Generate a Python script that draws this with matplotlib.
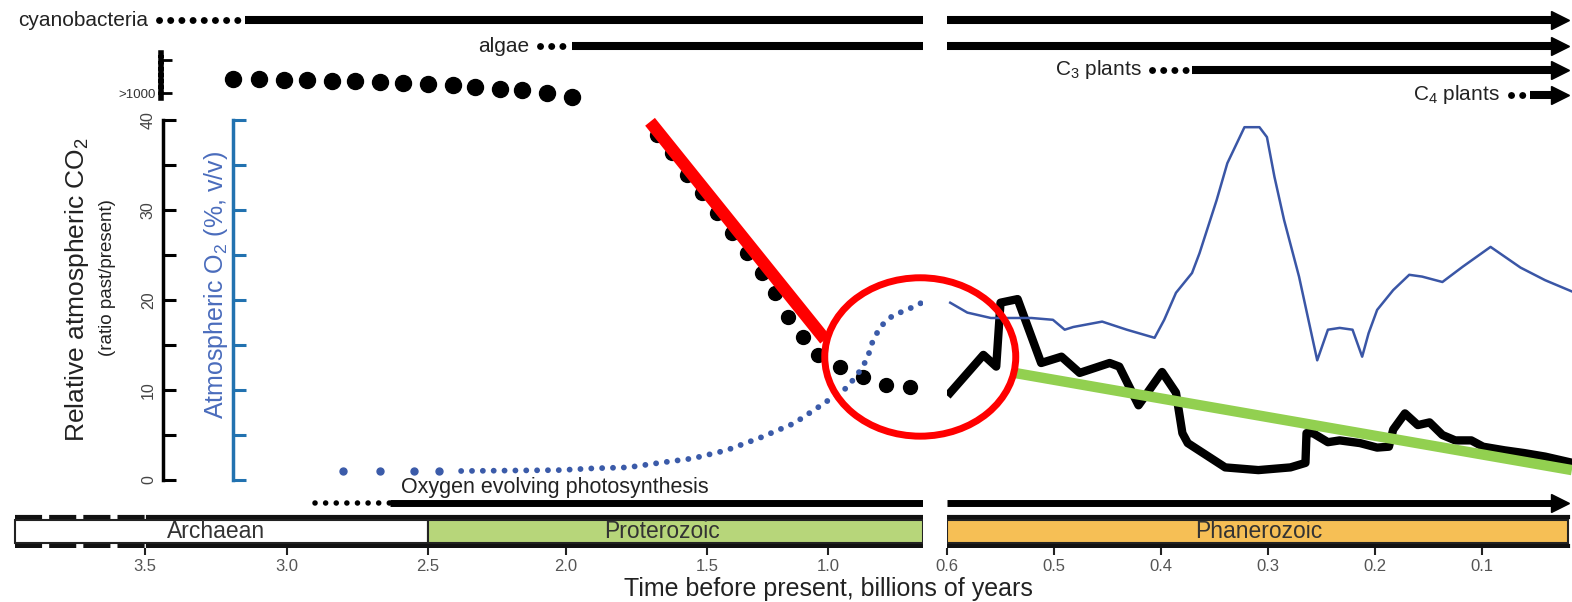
import numpy as np
import matplotlib
matplotlib.use("Agg")
import matplotlib.pyplot as plt
from matplotlib.patches import Ellipse

plt.rcParams['font.family'] = ['Liberation Sans', 'DejaVu Sans']
plt.rcParams['mathtext.default'] = 'regular'

# ---------------- data (time in billions of years before present) ----------------
# CO2 ">1000" dots, drawn in the broken part of the axis above 40
co2_high_age = [3.19, 3.10, 3.01, 2.93, 2.84, 2.76, 2.67, 2.59, 2.50, 2.41, 2.33, 2.24, 2.16, 2.07, 1.98]
co2_high_pos = [44.6, 44.5, 44.4, 44.4, 44.3, 44.3, 44.2, 44.1, 44.0, 43.9, 43.7, 43.4, 43.3, 43.0, 42.6]

# Proterozoic CO2 dots (ratio past/present)
co2_pre_age = [1.677, 1.624, 1.571, 1.518, 1.459, 1.397, 1.335, 1.273, 1.219, 1.165,
               1.103, 1.041, 0.950, 0.855, 0.760, 0.661]
co2_pre = [38.3, 36.3, 33.9, 31.9, 29.7, 27.4, 25.2, 23.0, 20.8, 18.1,
           15.9, 13.9, 12.6, 11.4, 10.6, 10.3]

# Precambrian O2 (%)
o2_sparse_age = [2.80, 2.67, 2.55, 2.46]
o2_sparse = [1.0, 1.0, 1.0, 1.0]
o2_pre_age = [2.38, 2.02, 1.90, 1.78, 1.67, 1.55, 1.42, 1.28, 1.14, 1.045, 0.98, 0.92,
              0.86, 0.835, 0.818, 0.785, 0.731, 0.674, 0.612]
o2_pre = [1.0, 1.1, 1.3, 1.4, 1.9, 2.4, 3.3, 4.7, 6.3, 8.0, 9.2, 10.3,
          12.4, 13.7, 15.2, 17.0, 18.3, 18.9, 19.7]

# Phanerozoic CO2 (ratio)
phan_co2_age = [0.597, 0.566, 0.554, 0.550, 0.534, 0.512, 0.493, 0.476, 0.448, 0.439,
                0.421, 0.399, 0.386, 0.380, 0.375, 0.340, 0.309, 0.279, 0.265, 0.264,
                0.258, 0.244, 0.233, 0.214, 0.198, 0.187, 0.183, 0.172, 0.160, 0.149,
                0.137, 0.125, 0.110, 0.099, 0.079, 0.061, 0.041, 0.019]
phan_co2 = [9.7, 13.9, 12.6, 19.7, 20.1, 13.0, 13.7, 11.9, 13.0, 12.6,
            8.3, 12.0, 9.7, 5.2, 4.1, 1.4, 1.1, 1.4, 1.9, 5.2,
            5.2, 4.2, 4.4, 4.1, 3.6, 3.7, 5.6, 7.4, 6.1, 6.4,
            5.0, 4.4, 4.4, 3.7, 3.3, 3.0, 2.6, 2.0]

# Phanerozoic O2 (%)
phan_o2_age = [0.597, 0.581, 0.559, 0.521, 0.501, 0.490, 0.482, 0.455, 0.432, 0.406,
               0.397, 0.386, 0.371, 0.364, 0.348, 0.338, 0.322, 0.308, 0.301, 0.294,
               0.285, 0.271, 0.254, 0.244, 0.233, 0.221, 0.212, 0.206, 0.198, 0.183,
               0.168, 0.156, 0.137, 0.118, 0.092, 0.064, 0.041, 0.015]
phan_o2 = [19.7, 18.6, 18.0, 18.0, 17.8, 16.7, 17.0, 17.6, 16.7, 15.8,
           17.8, 20.8, 23.0, 25.2, 31.1, 35.2, 39.2, 39.2, 38.1, 33.7,
           28.9, 22.6, 13.3, 16.7, 16.9, 16.7, 13.7, 16.3, 18.9, 21.1,
           22.8, 22.6, 22.0, 23.7, 25.9, 23.6, 22.2, 20.9]

# lineages: label, level, dotted from, dotted to, solid from
lineages = [
    ("cyanobacteria", 51.1, 3.451, 3.162, 3.148),
    ("algae", 48.2, 2.094, 2.000, 1.979),
    ("C$_3$ plants", 45.6, 0.408, 0.374, 0.371),
    ("C$_4$ plants", 42.8, 0.073, 0.057, 0.055),
]
photo_level, photo_dot = -2.56, (2.90, 2.635)

eons = ["Archaean", "Proterozoic", "Phanerozoic"]
eon_bounds = [(3.958, 2.5), (2.5, 0.607), (0.6, 0.020)]
eon_colors = ["white", "#b7d67a", "#f6bf55"]
eon_label_age = [3.25, 1.66, 0.309]

left_ticks = [3.5, 3.0, 2.5, 2.0, 1.5, 1.0]
right_ticks = [0.6, 0.5, 0.4, 0.3, 0.2, 0.1]

# ---------------- layout ----------------
W, H = 1572, 602
fig = plt.figure(figsize=(W / 100, H / 100), dpi=100)

# uneven time axis of the left (Precambrian) panel, as in the original
scale_age = np.array([4.01, 3.5, 3.0, 2.5, 2.0, 1.5, 1.0, 0.607])
scale_px = np.array([0, 145, 287, 428, 566, 707, 828, 923])


def fwd(v):
    return -np.interp(-np.asarray(v, float), -scale_age, scale_px)


def inv(t):
    return -np.interp(-np.asarray(t, float), scale_px, -scale_age)


LEFT_END = 0.607
ARROW_END = 0.027
ylim = (-7.556, 53.333)

ax1 = fig.add_axes([0, 1 - 548 / H, 923 / W, 548 / H])
ax1.set_xscale('function', functions=(fwd, inv))
ax1.set_xlim(4.01, LEFT_END)
ax1.set_ylim(*ylim)

ax2 = fig.add_axes([947 / W, 1 - 548 / H, 625 / W, 548 / H])
ax2.set_xlim(0.6, 0.6 - 625 / 1070)
ax2.set_ylim(*ylim)

for ax in (ax1, ax2):
    ax.patch.set_visible(False)
    for s in ['top', 'right', 'bottom', 'left']:
        ax.spines[s].set_visible(False)
    ax.tick_params(axis='x', direction='out', length=5, width=1.5, color='#222',
                   labelsize=12, labelcolor='#555', pad=3)

ax1.set_xticks(left_ticks)
ax1.set_xticklabels([f"{t:.1f}" for t in left_ticks])
ax2.set_xticks(right_ticks)
ax2.set_xticklabels([f"{t:.1f}" for t in right_ticks])
ax2.set_yticks([])

# CO2 axis
ax1.spines['left'].set_visible(True)
ax1.spines['left'].set_position(('data', 3.437))
ax1.spines['left'].set_bounds(0, 40)
ax1.spines['left'].set_linewidth(2.5)
ax1.set_yticks([0, 10, 20, 30, 40])
ax1.set_yticks([5, 15, 25, 35], minor=True)
ax1.tick_params(axis='y', which='both', direction='in', length=9, width=2.2,
                labelsize=11.5, labelcolor='#444', labelrotation=90, pad=5)
for lab in ax1.get_yticklabels():
    lab.set_va('center')

# O2 axis
ax_o2 = ax1.twinx()
ax_o2.set_ylim(*ylim)
for s in ['top', 'right', 'bottom']:
    ax_o2.spines[s].set_visible(False)
o2_axis_color = '#2272b0'
ax_o2.spines['left'].set_visible(True)
ax_o2.spines['left'].set_position(('data', 3.19))
ax_o2.spines['left'].set_bounds(0, 40)
ax_o2.spines['left'].set_linewidth(2.5)
ax_o2.spines['left'].set_color(o2_axis_color)
ax_o2.yaxis.set_ticks_position('left')
ax_o2.set_yticks(np.arange(0, 41, 5))
ax_o2.tick_params(axis='y', direction='in', length=9, width=2.2, color=o2_axis_color,
                  labelleft=False, labelright=False)

# broken ">1000" part of the CO2 axis
ax_brk = fig.add_axes([161 / W, 1 - 98 / H, 12 / W, 45 / H])
ax_brk.patch.set_visible(False)
for s in ['top', 'right', 'bottom']:
    ax_brk.spines[s].set_visible(False)
ax_brk.spines['left'].set_linestyle((0, (0.6, 0.5)))
ax_brk.spines['left'].set_linewidth(4)
ax_brk.set_ylim(0, 45)
ax_brk.set_xticks([])
ax_brk.set_yticks([5, 38])
ax_brk.set_yticklabels(['>1000', ''])
ax_brk.tick_params(axis='y', direction='in', length=8, width=2, labelsize=9.5,
                   labelcolor='#333', pad=4)

# ---------------- data marks ----------------
blue_dot = '#3b5ba9'
ax1.plot(co2_high_age, co2_high_pos, 'o', color='k', ms=11.5, clip_on=False)
ax1.plot(co2_pre_age, co2_pre, 'o', color='k', ms=10)
ax1.plot(o2_sparse_age, o2_sparse, 'o', color=blue_dot, ms=5)
ax1.plot(o2_pre_age, o2_pre, color=blue_dot, lw=4.2, linestyle=(0, (0.01, 1.85)),
         dash_capstyle='round')

ax2.plot(phan_co2_age, phan_co2, color='k', lw=6)
ax2.plot(phan_o2_age, phan_o2, color='#3a56a6', lw=1.8, clip_on=False)


# ---------------- lineage arrows ----------------
def draw_row(y, dot_from, dot_to, solid_from, dot_lw=5, line_lw=5.8, gap=1.6):
    ax_d = ax1 if dot_to > 0.6 else ax2
    ax_d.plot([dot_from, dot_to], [y, y], color='k', lw=dot_lw,
              linestyle=(0, (0.01, gap)), dash_capstyle='round', clip_on=False)
    if solid_from > 0.6:
        ax1.plot([solid_from, LEFT_END], [y, y], color='k', lw=line_lw, solid_capstyle='butt')
        ax2.plot([0.6, ARROW_END], [y, y], color='k', lw=line_lw, solid_capstyle='butt')
    else:
        ax2.plot([solid_from, ARROW_END], [y, y], color='k', lw=line_lw, solid_capstyle='butt')
    ax2.plot(ARROW_END, y, marker='>', ms=13, color='k', clip_on=False)


for name, y, d0, d1, s0 in lineages:
    draw_row(y, d0, d1, s0)
    ax_t = ax1 if d0 > 0.6 else ax2
    ax_t.annotate(name, xy=(d0, y), xytext=(-8, 0), textcoords='offset points',
                  ha='right', va='center', fontsize=15, color='#222')

draw_row(photo_level, photo_dot[0], photo_dot[1], photo_dot[1], dot_lw=4, line_lw=5, gap=1.9)
ax1.text(2.04, -0.85, "Oxygen evolving photosynthesis", ha='center', va='center',
         fontsize=15.5, color='#222')

# ---------------- eon bar ----------------
bar_y, bar_h = -5.72, 2.5
for i, (name, (a0, a1), c) in enumerate(zip(eons, eon_bounds, eon_colors)):
    ax = ax1 if a0 > 0.6 else ax2
    ax.barh(bar_y, a1 - a0, left=a0, height=bar_h, color=c, edgecolor='#222', lw=1.5)
    ax.text(eon_label_age[i], bar_y, name, ha='center', va='center', fontsize=16.5,
            color='#333')

for yy in (-4.11, -7.33):
    ax1.plot([3.958, 3.49], [yy, yy], color='#111', lw=3, linestyle=(0, (6.5, 1.7)))
    ax1.plot([3.49, LEFT_END], [yy, yy], color='#111', lw=3)
    ax2.plot([0.6, 0.020], [yy, yy], color='#111', lw=3)

# ---------------- annotations ----------------
ax1.plot([1.702, 1.012], [39.8, 15.6], color='#ff0000', lw=9, solid_capstyle='butt')
ax2.add_patch(Ellipse((0.625, 13.67), width=0.1785, height=17.6, fill=False,
                      edgecolor='#ff0000', lw=5, clip_on=False, zorder=5))
ax2.plot([0.537, 0.016], [11.9, 1.1], color='#92d050', lw=7.5, solid_capstyle='butt',
         clip_on=False, zorder=4)

# ---------------- axis titles ----------------
fig.text(77 / W, 1 - 290 / H, "Relative atmospheric CO$_2$", rotation=90,
         ha='center', va='center', fontsize=19, color='#222')
fig.text(108 / W, 1 - 278 / H, "(ratio past/present)", rotation=90,
         ha='center', va='center', fontsize=13.5, color='#222')
fig.text(216 / W, 1 - 285 / H, "Atmospheric O$_2$ (%, v/v)", rotation=90,
         ha='center', va='center', fontsize=18, color='#4a6cbc')
fig.text(828 / W, 1 - 589 / H, "Time before present, billions of years",
         ha='center', va='center', fontsize=18, color='#222')

fig.savefig("out.png", dpi=100)
